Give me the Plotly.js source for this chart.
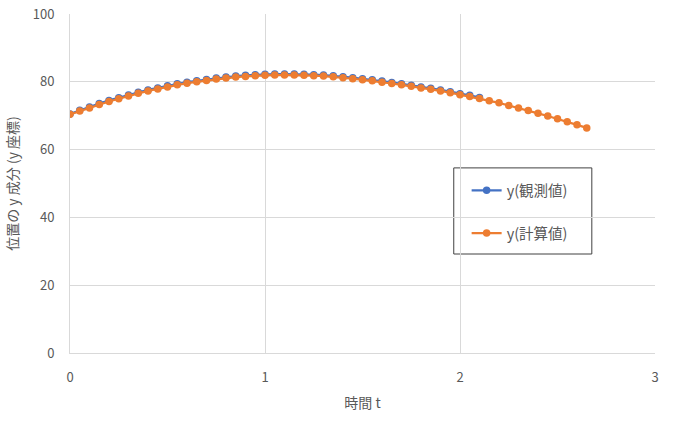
<!DOCTYPE html>
<html>
<head>
<meta charset="utf-8">
<script src="https://cdn.plot.ly/plotly-3.0.1.min.js"></script>
<style>
  body { margin: 0; background: #fff; }
  #chart { width: 678px; height: 421px; }
</style>
</head>
<body>
<div id="chart"></div>
<script>
// time (s), every 0.05 s
var tCalc = [0, 0.05, 0.1, 0.15, 0.2, 0.25, 0.3, 0.35, 0.4, 0.45, 0.5, 0.55, 0.6, 0.65, 0.7, 0.75, 0.8, 0.85, 0.9, 0.95,
             1.0, 1.05, 1.1, 1.15, 1.2, 1.25, 1.3, 1.35, 1.4, 1.45, 1.5, 1.55, 1.6, 1.65, 1.7, 1.75, 1.8, 1.85, 1.9, 1.95,
             2.0, 2.05, 2.1, 2.15, 2.2, 2.25, 2.3, 2.35, 2.4, 2.45, 2.5, 2.55, 2.6, 2.65]
var yCalc = [70.4, 71.4, 72.3, 73.3, 74.2, 75.0, 75.8, 76.6, 77.3, 77.9, 78.5, 79.1, 79.6, 80.0, 80.4, 80.8, 81.1, 81.4, 81.6, 81.8,
             81.9, 82.0, 82.0, 82.0, 81.9, 81.8, 81.7, 81.5, 81.2, 80.9, 80.6, 80.3, 79.9, 79.5, 79.1, 78.7, 78.2, 77.8, 77.3, 76.8,
             76.2, 75.7, 75.1, 74.4, 73.8, 73.0, 72.3, 71.5, 70.7, 69.9, 69.1, 68.2, 67.3, 66.4]

// observed values stop at 2.1 s
var tObs = [0, 0.05, 0.1, 0.15, 0.2, 0.25, 0.3, 0.35, 0.4, 0.45, 0.5, 0.55, 0.6, 0.65, 0.7, 0.75, 0.8, 0.85, 0.9, 0.95,
            1.0, 1.05, 1.1, 1.15, 1.2, 1.25, 1.3, 1.35, 1.4, 1.45, 1.5, 1.55, 1.6, 1.65, 1.7, 1.75, 1.8, 1.85, 1.9, 1.95,
            2.0, 2.05, 2.1]
var yObs = [70.5, 71.6, 72.6, 73.6, 74.5, 75.3, 76.1, 76.9, 77.6, 78.2, 78.8, 79.4, 79.9, 80.3, 80.7, 81.1, 81.4, 81.7, 81.9, 82.1,
            82.2, 82.3, 82.3, 82.3, 82.2, 82.1, 82.0, 81.8, 81.5, 81.2, 80.9, 80.6, 80.2, 79.8, 79.4, 79.0, 78.5, 78.1, 77.6, 77.1,
            76.5, 76.0, 75.4]

var seriesNames = ['y(観測値)', 'y(計算値)']
var xTicks = [0, 1, 2, 3]
var yTicks = [0, 20, 40, 60, 80, 100]

var font = 'Noto Sans CJK JP, Noto Sans, sans-serif'

var traces = [
    { x: tObs, y: yObs, name: seriesNames[0], type: 'scatter', mode: 'lines+markers',
      line: { color: '#4472C4', width: 2.25 }, marker: { color: '#4472C4', size: 7.5 }, legendgroup: 'a' },
    { x: tCalc, y: yCalc, name: seriesNames[1], type: 'scatter', mode: 'lines+markers',
      line: { color: '#ED7D31', width: 2.25 }, marker: { color: '#ED7D31', size: 7.5 }, legendgroup: 'b' }
]

var layout = {
    width: 678, height: 421,
    margin: { l: 70, r: 23, t: 14, b: 68 },
    paper_bgcolor: '#fff', plot_bgcolor: '#fff',
    font: { family: font, size: 13, color: '#595959' },
    showlegend: true,
    xaxis: {
        range: [0, 3], tickvals: xTicks, ticktext: xTicks.map(String),
        showgrid: true, gridcolor: '#d9d9d9', gridwidth: 1,
        zeroline: false, showline: true, linecolor: '#d9d9d9', mirror: false,
        ticks: '', ticklabelstandoff: 12,
        title: { text: '時間 t', font: { size: 14, color: '#595959' }, standoff: 13 }
    },
    yaxis: {
        range: [0, 100], tickvals: yTicks, ticktext: yTicks.map(String),
        showgrid: true, gridcolor: '#d9d9d9', gridwidth: 1,
        zeroline: false, showline: true, linecolor: '#d9d9d9',
        ticks: '', ticklabelstandoff: 12,
        title: { text: '位置の y 成分 (y 座標)', font: { size: 14, color: '#595959' }, standoff: 10 }
    },
    legend: {
        x: 0.678, y: 0.527, xanchor: 'left', yanchor: 'top',
        bgcolor: 'rgba(0,0,0,0)', borderwidth: 0,
        traceorder: 'grouped', tracegroupgap: 21,
        font: { size: 14.5, color: '#595959' }
    },
    shapes: [
        { type: 'rect', xref: 'paper', yref: 'paper', x0: 0.656, x1: 0.892, y0: 0.292, y1: 0.546,
          line: { color: '#404040', width: 1 }, fillcolor: '#fff', layer: 'below' }
    ]
}

Plotly.newPlot('chart', traces, layout, { displayModeBar: false, staticPlot: true })
</script>
</body>
</html>
